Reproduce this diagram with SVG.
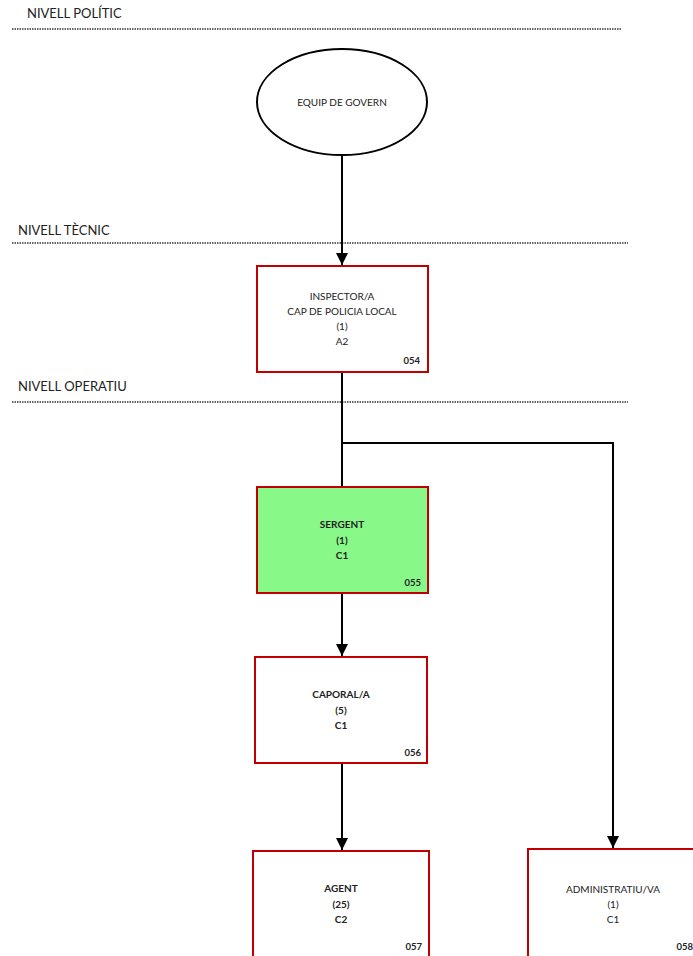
<svg xmlns="http://www.w3.org/2000/svg" width="693" height="956" viewBox="0 0 693 956">
<defs>
<style>
text{font-family:"Lato","Open Sans","Liberation Sans",sans-serif;fill:#222}
.lvl{font-size:13px}
.t{font-size:10px;text-anchor:middle}
.b{font-weight:bold}
.code{font-size:9.5px;font-weight:bold;text-anchor:end}
.box{stroke:#C00000;stroke-width:2;fill:#fff}
.dot{stroke:#333;stroke-width:1.5;stroke-dasharray:1.5 1}
.c{stroke:#000;stroke-width:2;fill:none}
</style>
<marker id="arr" viewBox="0 0 10 10" refX="10" refY="5" markerWidth="6" markerHeight="6" markerUnits="strokeWidth" orient="auto">
<path d="M0,0 L10,5 L0,10 z" fill="#000"/>
</marker>
</defs>
<rect width="693" height="956" fill="#fff"/>
<g id="levels">
<text class="lvl" x="27" y="18">NIVELL POLÍTIC</text>
<line class="dot" x1="12" y1="29" x2="622" y2="29"/>
<text class="lvl" x="18" y="235">NIVELL TÈCNIC</text>
<line class="dot" x1="12" y1="243" x2="628" y2="243"/>
<text class="lvl" x="18" y="391">NIVELL OPERATIU</text>
<line class="dot" x1="12" y1="402" x2="628" y2="402"/>
</g>
<g id="connectors">
<line class="c" x1="342" y1="156" x2="342" y2="265" marker-end="url(#arr)"/>
<line class="c" x1="342" y1="373" x2="342" y2="487"/>
<polyline class="c" points="342,443 613,443 613,848" marker-end="url(#arr)"/>
<line class="c" x1="342" y1="594" x2="342" y2="656" marker-end="url(#arr)"/>
<line class="c" x1="342" y1="764" x2="342" y2="850" marker-end="url(#arr)"/>
</g>
<g id="equip">
<ellipse cx="342" cy="102" rx="85" ry="53" fill="#fff" stroke="#000" stroke-width="2"/>
<text class="t" x="342" y="106">EQUIP DE GOVERN</text>
</g>
<g id="n054">
<rect class="box" x="257" y="266" width="171" height="106"/>
<text class="t" x="342" y="300">INSPECTOR/A</text>
<text class="t" x="342" y="315">CAP DE POLICIA LOCAL</text>
<text class="t" x="342" y="330">(1)</text>
<text class="t" x="342" y="345">A2</text>
<text class="code" x="420" y="364">054</text>
</g>
<g id="n055">
<rect class="box" x="257" y="487" width="171" height="106" style="fill:#88F888"/>
<text class="t b" x="342" y="528">SERGENT</text>
<text class="t b" x="342" y="544">(1)</text>
<text class="t b" x="342" y="559">C1</text>
<text class="code" x="421" y="586">055</text>
</g>
<g id="n056">
<rect class="box" x="255" y="657" width="172" height="106"/>
<text class="t b" x="341" y="698">CAPORAL/A</text>
<text class="t b" x="341" y="714">(5)</text>
<text class="t b" x="341" y="729">C1</text>
<text class="code" x="421" y="756">056</text>
</g>
<g id="n057">
<rect class="box" x="253" y="851" width="176" height="112"/>
<text class="t b" x="341" y="892">AGENT</text>
<text class="t b" x="341" y="908">(25)</text>
<text class="t b" x="341" y="923">C2</text>
<text class="code" x="422" y="950">057</text>
</g>
<g id="n058">
<rect class="box" x="528" y="849" width="170" height="114"/>
<text class="t" x="613" y="893">ADMINISTRATIU/VA</text>
<text class="t" x="613" y="908">(1)</text>
<text class="t" x="613" y="923">C1</text>
<text class="code" x="693" y="950">058</text>
</g>
</svg>
